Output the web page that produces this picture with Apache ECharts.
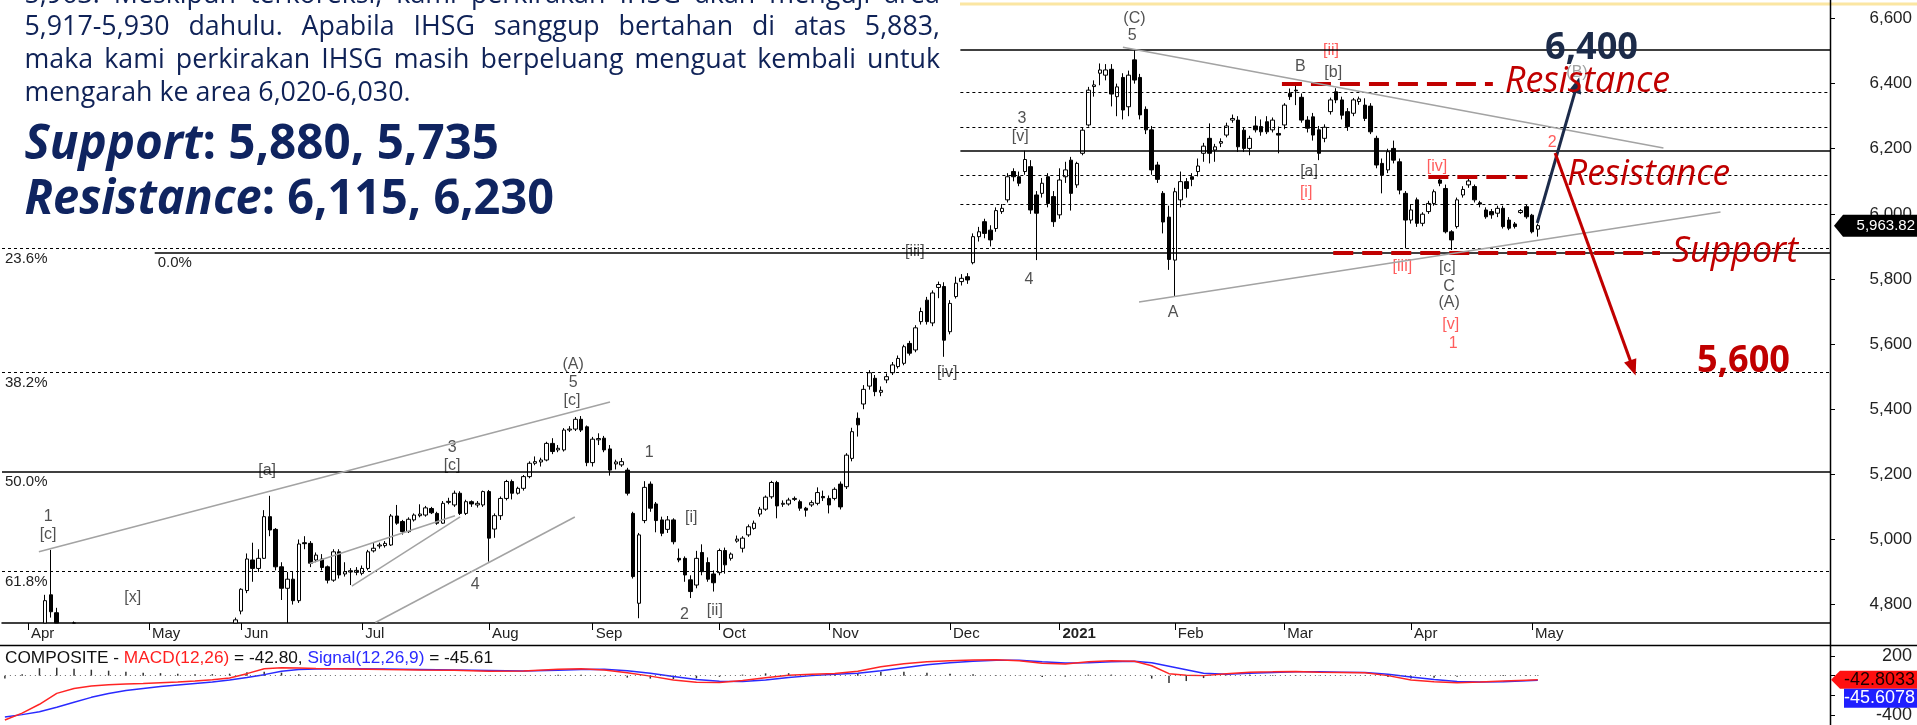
<!DOCTYPE html>
<html>
<head>
<meta charset="utf-8">
<script src="https://cdn.jsdelivr.net/npm/echarts@6/dist/echarts.min.js"></script>
<style>
html,body{margin:0;padding:0;background:#fff;}
#chart{width:1917px;height:725px;}
</style>
</head>
<body>
<div id="chart"></div>
<script>
// x axis: one slot per trading day, month ticks at first trading day
const monthNames = ['Apr','May','Jun','Jul','Aug','Sep','Oct','Nov','Dec','2021','Feb','Mar','Apr','May'];
const monthStarts = [4,25,41,62,84,102,124,143,164,183,203,222,244,265];
const priceTicks = [4800,5000,5200,5400,5600,5800,6000,6200,6400,6600];

// daily candles [open, close, low, high]
const mar20 = [[4100,4338,4050,4400],[4400,4545,4380,4600],[4500,4414,4380,4530],[4420,4538,4400,4580]];
const apr20 = [[4530,4466,4440,4560],[4460,4531,4420,4550],[4540,4623,4530,4640],[4650,4812,4640,4830],[4830,4778,4760,4968],
  [4775,4626,4610,4790],[4640,4649,4600,4680],[4640,4623,4590,4660],[4630,4706,4620,4748],[4700,4625,4610,4710],
  [4610,4480,4470,4620],[4500,4635,4490,4650],[4640,4575,4560,4650],[4570,4501,4480,4580],[4500,4567,4470,4580],
  [4580,4593,4560,4610],[4590,4496,4480,4600],[4500,4513,4470,4530],[4520,4498,4480,4540],[4500,4567,4490,4580],[4570,4716,4560,4720]];
const may20 = [[4690,4606,4590,4700],[4600,4630,4590,4650],[4630,4627,4600,4650],[4620,4597,4580,4640],[4600,4639,4590,4660],
  [4640,4588,4570,4650],[4590,4573,4550,4610],[4570,4533,4520,4590],[4540,4507,4490,4550],[4500,4512,4480,4530],
  [4520,4548,4500,4560],[4550,4575,4540,4600],[4580,4626,4570,4640],[4630,4641,4610,4660],[4650,4716,4640,4725],[4730,4753,4720,4760]];
const jun20 = [[4780,4847,4770,4850],[4843,4940,4835,4957],[4937,4911,4870,4990],[4911,4942,4900,4970],[4942,5070,4940,5090],
  [5070,5029,5010,5134],[5031,4916,4905,5035],[4916,4850,4814,4930],[4850,4878,4700,4900],[4878,4812,4800,4900],
  [4812,4986,4805,5000],[4990,4987,4970,5010],[4988,4927,4915,4995],[4937,4952,4930,4960],[4940,4914,4905,4955],
  [4916,4875,4865,4920],[4875,4962,4870,4970],[4962,4891,4880,4970],[4894,4901,4886,4930],[4900,4904,4860,4912],[4899,4905,4890,4915]];
const jul20 = [[4896,4911,4890,4920],[4911,4962,4905,4968],[4965,4973,4960,4991],[4980,4983,4972,4990],[4981,4988,4975,4995],
  [4983,5072,4980,5078],[5072,5050,5045,5106],[5055,5024,5015,5060],[5024,5062,5020,5068],[5060,5075,5055,5080],
  [5073,5078,5068,5108],[5075,5097,5070,5103],[5095,5082,5078,5100],[5080,5050,5045,5085],[5050,5111,5048,5118],
  [5114,5117,5108,5128],[5106,5142,5100,5150],[5142,5080,5075,5148],[5080,5116,5075,5122],[5116,5109,5100,5120],
  [5106,5111,5098,5118],[5106,5147,5100,5150]];
const aug20 = [[5147,5004,4932,5152],[5032,5073,5005,5080],[5073,5126,5060,5132],[5126,5178,5120,5183],[5178,5142,5123,5184],
  [5142,5157,5138,5162],[5157,5193,5150,5198],[5193,5234,5188,5240],[5234,5239,5228,5255],[5238,5244,5224,5251],
  [5244,5295,5240,5300],[5295,5270,5262,5311],[5275,5280,5268,5290],[5275,5336,5270,5342],[5336,5339,5330,5348],
  [5339,5369,5333,5376],[5369,5336,5330,5379],[5346,5236,5225,5350]];
const sep20 = [[5236,5308,5224,5315],[5306,5310,5290,5326],[5311,5275,5268,5318],[5278,5213,5196,5290],[5232,5238,5215,5245],
  [5229,5239,5223,5250],[5213,5142,5135,5220],[5080,4886,4880,5085],[4804,5014,4758,5020],[5058,5160,5050,5179],
  [5170,5096,5085,5178],[5109,5058,5022,5115],[5060,5019,5010,5070],[5031,5060,5020,5072],[5060,4993,4985,5065],
  [4942,4937,4930,4972],[4942,4891,4870,4948],[4876,4840,4820,4890],[4860,4942,4850,4965],[4960,4901,4890,4985],
  [4929,4878,4870,4945],[4894,4867,4840,4905]];
const oct20 = [[4898,4966,4890,4972],[4966,4922,4895,4975],[4942,4955,4935,4960],[4995,5001,4990,5012],[4973,5004,4960,5010],
  [5014,5039,5008,5046],[5034,5050,5030,5058],[5078,5093,5070,5100],[5093,5130,5088,5135],[5131,5175,5125,5180],
  [5175,5103,5065,5180],[5108,5111,5100,5120],[5109,5121,5104,5128],[5123,5126,5118,5132],[5116,5096,5088,5122],
  [5096,5090,5070,5100],[5106,5113,5100,5120],[5111,5144,5105,5160],[5132,5128,5118,5150]];
const nov20 = [[5126,5106,5080,5135],[5126,5154,5120,5160],[5170,5100,5092,5178],[5162,5259,5155,5265],[5249,5331,5240,5343],
  [5372,5352,5316,5390],[5416,5461,5400,5474],[5471,5512,5460,5520],[5495,5454,5440,5505],[5452,5458,5440,5470],
  [5490,5500,5480,5510],[5512,5536,5505,5545],[5531,5556,5525,5565],[5541,5592,5535,5598],[5602,5572,5565,5610],
  [5582,5650,5575,5658],[5669,5700,5660,5712],[5735,5669,5660,5745],[5665,5757,5655,5765],[5774,5783,5741,5792],[5777,5612,5561,5790]];
const dec20 = [[5638,5725,5630,5735],[5746,5787,5740,5807],[5792,5802,5780,5815],[5807,5797,5785,5818],[5850,5930,5845,5940],
  [5930,5945,5915,5960],[5976,5940,5925,5985],[5950,5920,5900,5965],[5955,6010,5945,6020],[6007,6017,6000,6030],
  [6043,6114,6035,6125],[6130,6114,6100,6140],[6114,6094,6085,6130],[6130,6167,6120,6194],[6145,6012,6000,6165],
  [6058,6002,5858,6070],[6063,6094,6050,6110],[6114,6032,6020,6125],[6053,5976,5960,6070]];
const jan21 = [[5997,6104,5985,6140],[6114,6135,6095,6160],[6165,6063,6010,6175],[6089,6155,6080,6160],[6186,6257,6180,6265],
  [6273,6380,6268,6390],[6391,6396,6360,6410],[6432,6442,6395,6462],[6426,6442,6410,6460],[6444,6368,6330,6460],
  [6360,6390,6300,6400],[6419,6319,6290,6432],[6329,6426,6300,6440],[6473,6411,6400,6503],[6419,6304,6290,6430],
  [6321,6258,6245,6330],[6258,6135,6120,6270],[6150,6106,6095,6160],[6063,5975,5940,6070],[5990,5860,5828,6025]];
const feb21 = [[5858,6068,5746,6080],[6043,6099,6020,6130],[6099,6078,6050,6110],[6114,6106,6085,6125],[6130,6147,6115,6170],
  [6186,6208,6160,6218],[6232,6186,6155,6278],[6196,6206,6160,6215],[6217,6222,6205,6232],[6242,6270,6235,6280],
  [6288,6293,6280,6305],[6288,6206,6190,6300],[6257,6201,6190,6265],[6201,6232,6180,6240],[6270,6258,6250,6300],
  [6268,6252,6240,6290],[6283,6252,6245,6300],[6258,6288,6250,6296],[6247,6242,6186,6268]];
const mar21 = [[6273,6334,6260,6340],[6370,6360,6350,6385],[6380,6378,6334,6400],[6358,6288,6280,6370],[6288,6263,6250,6300],
  [6298,6242,6225,6310],[6258,6186,6165,6270],[6232,6266,6220,6275],[6314,6350,6305,6357],[6375,6350,6340,6386],
  [6350,6303,6290,6360],[6314,6268,6255,6325],[6309,6350,6300,6356],[6345,6353,6335,6360],[6334,6293,6285,6355],
  [6331,6252,6245,6340],[6232,6150,6140,6240],[6155,6119,6063,6170],[6135,6191,6125,6200],[6201,6165,6155,6225],
  [6160,6073,6060,6170],[6063,5981,5894,6070]];
const apr21 = [[5981,6012,5970,6030],[6043,5971,5960,6050],[5971,5999,5962,6005],[6007,6032,6000,6040],[6032,6068,6025,6075],
  [6104,6094,6085,6110],[6078,5945,5940,6090],[5945,5920,5889,5950],[5961,6043,5955,6050],[6058,6075,6050,6085],
  [6089,6101,6080,6108],[6084,6043,6035,6090],[6034,6030,6020,6040],[6012,5991,5985,6020],[6007,5997,5985,6015],
  [6002,6017,5990,6025],[6017,5961,5955,6025],[5981,5956,5950,5990],[5969,5961,5955,5975],[6004,6010,6000,6015],[6022,5991,5985,6030]];
const may21 = [[5996,5945,5940,6000],[5953,5963.82,5930,5970]];

// MACD pane, read at sampled day slots
const macdSlots = [0,3,6,9,12,15,18,21,24,27,30,33,36,39,42,45,48,51,54,57,60,66,72,78,84,90,96,100,104,108,112,116,120,124,128,132,136,140,144,148,152,156,160,164,168,172,176,180,184,188,192,196,199,202,205,208,212,216,220,224,228,232,236,240,244,248,252,256,260,264,266];
const macdVals = [-450,-380,-290,-180,-130,-105,-92,-85,-80,-72,-65,-55,-42,-25,20,70,80,78,72,70,68,62,58,55,45,48,65,70,58,30,-5,-45,-68,-70,-50,-22,5,15,22,45,90,120,140,150,158,160,150,125,118,140,150,145,100,20,5,0,18,35,38,42,35,32,28,0,-45,-62,-72,-65,-55,-46,-42.8];
const signalVals = [-420,-395,-365,-320,-270,-220,-180,-150,-130,-110,-95,-80,-65,-45,-20,10,45,62,68,70,70,66,62,58,52,47,55,62,65,50,25,-10,-40,-58,-60,-45,-20,0,15,25,50,80,110,130,145,155,155,140,128,130,140,145,130,95,60,25,15,25,32,38,38,35,32,15,-15,-40,-60,-65,-62,-52,-45.6];
const histVals = [-30,15,75,80,70,60,50,40,30,25,20,15,15,20,35,40,30,15,5,0,-2,-4,-4,-3,-5,2,10,8,-7,-20,-30,-35,-28,-12,10,23,25,15,7,20,40,40,30,20,13,5,-5,-15,-10,10,10,0,-30,-75,-55,-25,3,10,6,4,-3,-3,-4,-15,-30,-22,-12,0,7,6,3];

// horizontal levels [price, startSlot, style, label]
const levelLines = [
  [6503,165.8,'solid',''],[6374,165.8,'dot',''],[6267,165.8,'dot',''],[6194,165.8,'solid',''],
  [6118,165.8,'dot',''],[6031,165.8,'dot',''],[5894,-0.5,'dot','23.6%'],[5882,26,'solid','0.0%'],
  [5514,-0.5,'dot','38.2%'],[5208,-0.5,'solid','50.0%'],[4902,-0.5,'dot','61.8%']
];
// red dashed support / resistance [price, fromSlot, toSlot]
const srLines = [[6401,221.6,258.2],[6114,247.0,264.2],[5882,230.5,287.2]];
// grey trend lines [slot1, price1, slot2, price2]
const trendLines = [[5.9,4962,105.0,5422],[52.9,4926,78.1,5073],[60.2,4857,79.0,5069],[64.3,4745,98.9,5069],
  [194.0,6512,287.8,6202],[196.8,5729,297.7,6006]];
// projection arrows [slot1, price1, slot2, price2, colour]
const arrows = [[265.9,5972,272.8,6396,'#1c2b4a'],[269.0,6187,282.5,5527,'#c00000']];
// wave counts [text, slot, price, kind]
const waveLabels = [
  ['1',7.5,5069,'k'],['[c]',7.5,5014,'k'],['[x]',22.2,4820,'k'],['[a]',45.5,5210,'k'],['3',77.6,5281,'k'],
  ['[c]',77.6,5226,'k'],['4',81.6,4860,'k'],['(A)',98.6,5536,'k'],['5',98.6,5481,'k'],['[c]',98.4,5428,'k'],
  ['1',111.8,5266,'k'],['[i]',119.1,5066,'k'],['2',117.9,4768,'k'],['[ii]',123.2,4783,'k'],['[iv]',163.5,5511,'k'],
  ['[iii]',157.9,5883,'k'],['(C)',196.0,6601,'k'],['5',195.6,6549,'k'],['3',176.5,6294,'k'],['[v]',176.2,6236,'k'],
  ['4',177.7,5797,'k'],['A',202.7,5696,'k'],['B',224.8,6451,'k'],['[b]',230.5,6433,'k'],['[ii]',230.1,6503,'r'],
  ['[a]',226.3,6129,'k'],['[i]',225.8,6064,'r'],['[iv]',248.5,6144,'r'],['[iii]',242.5,5837,'r'],['[c]',250.3,5834,'k'],
  ['C',250.6,5778,'k'],['(A)',250.6,5726,'k'],['[v]',250.9,5659,'r'],['1',251.3,5603,'r'],['2',268.5,6218,'r'],['(B)',272.8,6433,'g']
];

const lastClose = 5963.82;
const labelColor = {k:'#262626', r:'#ff3535', g:'#8a8a8a'};
const Y_MIN = 4743.4, Y_MAX = 6641.5, X_MAX = 316.7;

// keep bars inside the price pane: drop days entirely below it, cut the rest at the pane floor
const candleData = [];
[].concat(mar20, apr20, may20, jun20, jul20, aug20, sep20, oct20, nov20, dec20, jan21, feb21, mar21, apr21, may21)
  .forEach((d, i) => {
    if (d[3] < Y_MIN) return;
    candleData.push([i, Math.max(d[0], Y_MIN), Math.max(d[1], Y_MIN), Math.max(d[2], Y_MIN), d[3]]);
  });

const markLines = [];
levelLines.forEach(l => {
  const first = {coord:[l[1], l[0]], lineStyle:{color:'#000', width: l[2] === 'solid' ? 1.5 : 1, type: l[2] === 'solid' ? 'solid' : [3,3]}};
  if (l[3]) first.label = {show:true, position:'insideStartBottom', formatter:l[3], color:'#222', fontSize:15, fontFamily:'Liberation Sans', distance:3};
  markLines.push([first, {coord:[X_MAX, l[0]]}]);
});
srLines.forEach(l => {
  markLines.push([{coord:[l[1], l[0]], lineStyle:{color:'#c00000', width:4, type:[20,9]}}, {coord:[l[2], l[0]]}]);
});
trendLines.forEach(l => {
  markLines.push([{coord:[l[0], l[1]], lineStyle:{color:'#a3a3a3', width:1.5, type:'solid'}}, {coord:[l[2], l[3]]}]);
});
arrows.forEach(a => {
  markLines.push([{coord:[a[0], a[1]], symbol:'none', lineStyle:{color:a[4], width:3, type:'solid'}},
    {coord:[a[2], a[3]], symbol:'triangle', symbolSize:[13,16], itemStyle:{color:a[4]}}]);
});

const chart = echarts.init(document.getElementById('chart'));
const option = {
  animation: false,
  backgroundColor: '#fff',
  grid: [
    {left:2, top:5, width:1828, height:618},
    {left:2, top:646, width:1828, height:79}
  ],
  xAxis: [
    {
      type:'value', gridIndex:0, min:-0.5, max:X_MAX,
      axisLine:{show:true, onZero:false, lineStyle:{color:'#000', width:1.5}},
      axisTick:{show:true, customValues:monthStarts, length:7, lineStyle:{color:'#000'}},
      axisLabel:{
        customValues:monthStarts, align:'left', margin:3, padding:[0,0,0,3],
        color:'#222', fontSize:15, fontFamily:'Liberation Sans',
        formatter: v => {
          const n = monthNames[monthStarts.indexOf(Math.round(v))] || '';
          return n === '2021' ? '{b|2021}' : n;
        },
        rich:{b:{fontWeight:'bold', fontSize:15, color:'#222', fontFamily:'Liberation Sans'}}
      },
      splitLine:{show:false}
    },
    {type:'value', gridIndex:1, min:-0.5, max:X_MAX, show:false}
  ],
  yAxis: [
    {
      type:'value', gridIndex:0, position:'right', min:Y_MIN, max:Y_MAX,
      axisLine:{show:false, onZero:false},
      axisTick:{show:true, customValues:priceTicks, length:5, lineStyle:{color:'#000'}},
      axisLabel:{customValues:priceTicks, align:'right', margin:82, color:'#222', fontSize:17, fontFamily:'Liberation Sans',
        formatter: v => v.toLocaleString('en-US')},
      splitLine:{show:false}
    },
    {
      type:'value', gridIndex:1, position:'right', min:-500, max:300,
      axisLine:{show:false, onZero:false},
      axisTick:{show:true, customValues:[200,0,-200,-400], length:5, lineStyle:{color:'#000'}},
      axisLabel:{customValues:[200,-400], align:'right', margin:82, color:'#222', fontSize:18, fontFamily:'Liberation Sans'},
      splitLine:{show:false}
    }
  ],
  series: [
    {
      type:'candlestick', xAxisIndex:0, yAxisIndex:0, data:candleData, encode:{x:0, y:[1,2,3,4]},
      barWidth:4, clip:true, silent:true,
      itemStyle:{color:'#fff', color0:'#000', borderColor:'#000', borderColor0:'#000', borderWidth:1}
    },
    {
      type:'scatter', xAxisIndex:0, yAxisIndex:0, symbolSize:1, silent:true,
      itemStyle:{color:'rgba(0,0,0,0)'},
      data: waveLabels.map(w => ({value:[w[1], w[2]], label:{show:true, formatter:w[0], color:labelColor[w[3]]}})),
      label:{show:true, position:'inside', fontSize:16, fontFamily:'Liberation Sans'},
      markLine:{silent:true, symbol:['none','none'], label:{show:false}, data:markLines}
    },
    {
      type:'bar', xAxisIndex:1, yAxisIndex:1, barWidth:1.5, silent:true,
      data: macdSlots.map((s, i) => [s, histVals[i]]),
      itemStyle:{color:'#333'},
      markLine:{silent:true, symbol:['none','none'], label:{show:false},
        data:[[{coord:[0,0], lineStyle:{color:'#666', width:1, type:[1,4]}}, {coord:[266,0]}]]}
    },
    {
      type:'line', xAxisIndex:1, yAxisIndex:1, showSymbol:false, silent:true,
      data: macdSlots.map((s, i) => [s, signalVals[i]]),
      lineStyle:{color:'#2a2aff', width:1.5}
    },
    {
      type:'line', xAxisIndex:1, yAxisIndex:1, showSymbol:false, silent:true,
      data: macdSlots.map((s, i) => [s, macdVals[i]]),
      lineStyle:{color:'#ff2424', width:1.5}
    }
  ]
};
chart.setOption(option);

// text overlays
const ctx = document.createElement('canvas').getContext('2d');
function textW(str, font) { ctx.font = font; return ctx.measureText(str).width; }
function txt(str, font, x, y, sx, fill) {
  return {type:'text', x:x, y:y, scaleX:sx, z:100, silent:true,
    style:{text:str, font:font, fill:fill, align:'left', verticalAlign:'middle', textAlign:'left', textVerticalAlign:'middle'}};
}
const g = [];
const navy = '#0f2257';

// paragraph
const pFont = '500 28px "Open Sans"';
const para = [
  ['5,963. Meskipun terkoreksi, kami perkirakan IHSG akan menguji area', -5, true],
  ['5,917-5,930 dahulu. Apabila IHSG sanggup bertahan di atas 5,883,', 27, true],
  ['maka kami perkirakan IHSG masih berpeluang menguat kembali untuk', 60, true],
  ['mengarah ke area 6,020-6,030.', 93, false]
];
const pScale = 386 / textW(para[3][0], pFont);
para.forEach(p => {
  const words = p[0].split(' ');
  const ws = words.map(w => textW(w, pFont) * pScale);
  const sum = ws.reduce((a, b) => a + b, 0);
  const gap = p[2] ? (915.5 - sum) / (words.length - 1) : textW(' ', pFont) * pScale;
  let x = 24.5;
  words.forEach((w, i) => { g.push(txt(w, pFont, x, p[1], pScale, navy)); x += ws[i] + gap; });
});

// bold support / resistance lines
function boldLine(a, b, y, width) {
  const fa = 'italic bold 49px "Open Sans"', fb = 'bold 49px "Open Sans"';
  const wa = textW(a, fa), wb = textW(b, fb);
  const s = width / (wa + wb);
  g.push(txt(a, fa, 24.5, y, s, '#0f2460'));
  g.push(txt(b, fb, 24.5 + wa * s, y, s, '#0f2460'));
}
boldLine('Support', ': 5,880, 5,735', 145, 474.5);
boldLine('Resistance', ': 6,115, 6,230', 200, 529.5);

// annotation texts on the right
function fit(str, font, x, w, y, fill) { g.push(txt(str, font, x, y, w / textW(str, font), fill)); }
fit('6,400', 'bold 38px "Open Sans"', 1545, 93, 48, '#1c2b49');
fit('Resistance', 'italic 36px "Open Sans"', 1505, 165, 82, '#c00000');
fit('Resistance', 'italic 36px "Open Sans"', 1567, 163, 175, '#c00000');
fit('Support', 'italic 36px "Open Sans"', 1672, 126, 252, '#c00000');
fit('5,600', 'bold 38px "Open Sans"', 1697, 93, 361, '#c00000');

// MACD title, fitted to its width in the picture
const mFont = '17px "Liberation Sans"';
const mParts = [['COMPOSITE - ', '#111'], ['MACD(12,26)', '#ff1f1f'], [' = -42.80, ', '#111'], ['Signal(12,26,9)', '#2a2aff'], [' = -45.61', '#111']];
const mTotal = mParts.reduce((a, p) => a + textW(p[0], mFont), 0);
const mScale = 488 / mTotal;
let mx = 5;
mParts.forEach(p => { g.push(txt(p[0], mFont, mx, 658, mScale, p[1])); mx += textW(p[0], mFont) * mScale; });

// frame lines
g.push({type:'line', z:50, silent:true, shape:{x1:960, y1:4, x2:1917, y2:4}, style:{stroke:'#fbe6a2', lineWidth:3}});
g.push({type:'line', z:50, silent:true, shape:{x1:0, y1:645.5, x2:1917, y2:645.5}, style:{stroke:'#000', lineWidth:1.5}});
g.push({type:'line', z:50, silent:true, shape:{x1:1830.5, y1:0, x2:1830.5, y2:725}, style:{stroke:'#000', lineWidth:1.5}});

// value tags
function tag(y, label, bg, fg, left, h, fs) {
  g.push({type:'polygon', z:60, silent:true,
    shape:{points:[[left, y], [left + 9, y - h / 2], [1917, y - h / 2], [1917, y + h / 2], [left + 9, y + h / 2]]}, style:{fill:bg}});
  g.push({type:'text', z:61, silent:true, x:1915, y:y,
    style:{text:label, font:fs + 'px "Liberation Sans"', fill:fg, align:'right', verticalAlign:'middle', textAlign:'right', textVerticalAlign:'middle'}});
}
const yClose = chart.convertToPixel({gridIndex:0}, [0, lastClose])[1];
tag(yClose, '5,963.82', '#000', '#fff', 1834, 22, 15);
const yMacd = chart.convertToPixel({gridIndex:1}, [0, macdVals[macdVals.length - 1]])[1];
tag(yMacd, '-42.8033', '#ff1010', '#1a0000', 1831, 18, 18);
g.push({type:'rect', z:60, silent:true, shape:{x:1844, y:yMacd + 9, width:73, height:19}, style:{fill:'#1f1fff'}});
g.push({type:'text', z:61, silent:true, x:1915, y:yMacd + 18.5,
  style:{text:'-45.6078', font:'18px "Liberation Sans"', fill:'#fff', align:'right', verticalAlign:'middle', textAlign:'right', textVerticalAlign:'middle'}});

chart.setOption({graphic: g});
</script>
</body>
</html>
